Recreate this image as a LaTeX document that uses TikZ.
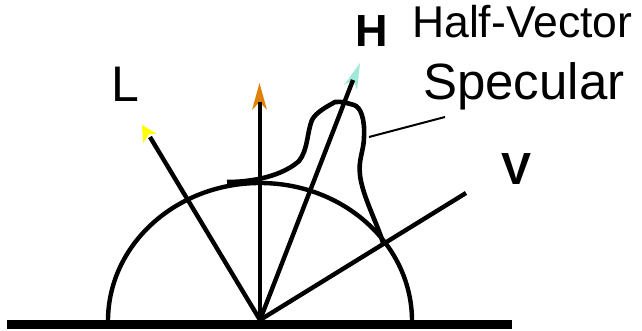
\documentclass[tikz,border=0pt]{standalone}
\usepackage{fontspec}
\setmainfont{Liberation Sans}
\definecolor{tipL}{RGB}{255,255,0}
\definecolor{tipN}{RGB}{224,130,10}
\definecolor{tipH}{RGB}{160,232,216}
\tikzset{
  ray/.style={line width=4.4pt,black},
  curveline/.style={line width=4.4pt,black},
  lbl/.style={inner sep=0pt,anchor=base west},
}
\begin{document}
\begin{tikzpicture}[x=1pt,y=-1pt]
\useasboundingbox (0,0) rectangle (642,331);
\coordinate (O) at (260,320);
\coordinate (Lend) at (150,137);
\coordinate (Nend) at (260,102);
\coordinate (Hend) at (353,80);
\coordinate (Vend) at (466,193);
\coordinate (G1) at (7,324.5);
\coordinate (G2) at (512,324.5);
\coordinate (T1) at (369,137);
\coordinate (T2) at (445,117);
\fill[tipL] (142,125) -- (157,134) -- (149,134) -- (143,143) -- cycle;
\fill[tipN] (259.5,83) -- (267,110) -- (259.5,102) -- (252,110) -- cycle;
\fill[tipH] (360,63) -- (357,90) -- (353,80) -- (344,85) -- cycle;
\draw[curveline] (108,321) arc[start angle=180,end angle=360,x radius=152,y radius=138];
\draw[ray] (O) -- (Lend);
\draw[ray] (O) -- (Nend);
\draw[ray] (O) -- (Hend);
\draw[ray] (O) -- (Vend);
\draw[line width=9.5pt] (G1) -- (G2);
\draw[line width=4.6pt,line cap=butt] (227,182) .. controls (262,182) and (287,172) .. (299,161)
  .. controls (308,150) and (307,132) .. (312,120)
  .. controls (316,112) and (328,106) .. (335,102)
  .. controls (342,101) and (350,104) .. (354,105)
  .. controls (361,107) and (365,120) .. (364,137)
  .. controls (364,150) and (358,160) .. (360,175)
  .. controls (362,195) and (378,225) .. (383,243);
\draw[line width=2pt] (T1) -- (T2);
\node[lbl,font=\bfseries\fontsize{45}{45}\selectfont] (h) at (355,47) {H};
\node[lbl,font=\fontsize{50}{50}\selectfont] (l) at (111,102) {L};
\node[lbl,font=\bfseries\fontsize{45}{45}\selectfont] (v) at (501,185) {V};
\node[lbl,font=\fontsize{44.5}{44.5}\selectfont] (hv) at (412,38) {Half-Vector};
\node[lbl,font=\fontsize{51}{51}\selectfont] (sp) at (423,100) {Specular};
\end{tikzpicture}
\end{document}
